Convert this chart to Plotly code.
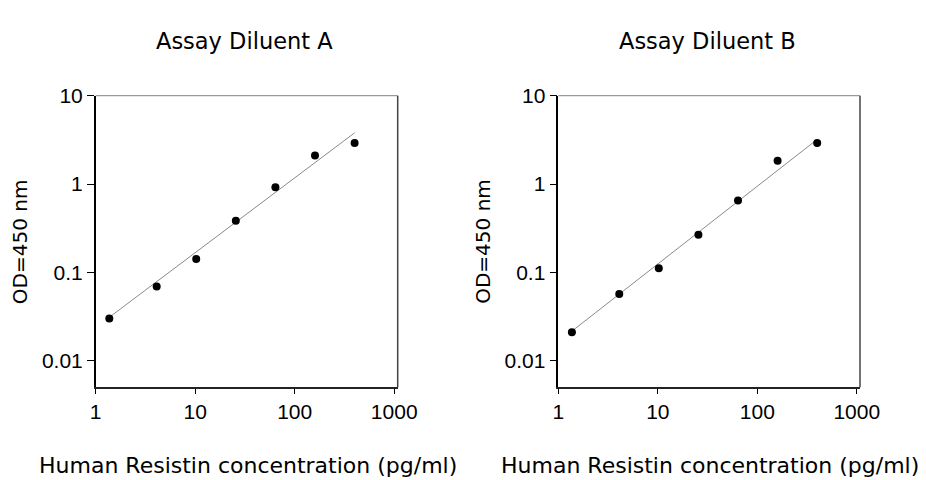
import numpy as np
import plotly.graph_objects as go

# concentration (pg/ml) of the standards
conc = [1.37, 4.1, 10.24, 25.6, 64, 160, 400]
od_a = [0.030, 0.069, 0.142, 0.385, 0.92, 2.11, 2.91]
od_b = [0.021, 0.057, 0.111, 0.267, 0.65, 1.84, 2.91]

# fitted line end points
fit_x = [1.37, 400]
fit_a = [0.031, 3.8]
fit_b = [0.0216, 3.2]

x_ticks = [1, 10, 100, 1000]
y_ticks = [0.01, 0.1, 1, 10]
panel_titles = ["Assay Diluent A", "Assay Diluent B"]

W, H = 926, 480
OFF = 8  # page body margin
panels = [(95.7, 397.7), (558.3, 860.0)]
top, bottom = 95.7, 387.3


def px(x):
  return (x - OFF) / W


def py(y):
  return 1 - (y - OFF) / H


fig = go.Figure()

for i, (od, fit) in enumerate([(od_a, fit_a), (od_b, fit_b)]):
  xa = "x" if i == 0 else "x2"
  ya = "y" if i == 0 else "y2"
  fig.add_trace(go.Scatter(x=fit_x, y=fit, mode="lines", xaxis=xa, yaxis=ya,
                           line=dict(color="#8a8a8a", width=1), showlegend=False))
  fig.add_trace(go.Scatter(x=conc, y=od, mode="markers", xaxis=xa, yaxis=ya,
                           marker=dict(color="black", size=8), showlegend=False))

tick_font = dict(family="Liberation Sans", size=21, color="black")
title_font = dict(family="DejaVu Sans", size=22, color="black")

layout = dict(template="none", width=W, height=H, margin=dict(l=0, r=0, t=0, b=0, pad=0),
              plot_bgcolor="white", paper_bgcolor="white", showlegend=False)

shapes = []
annotations = []
for i, (x0, x1) in enumerate(panels):
  sfx = "" if i == 0 else "2"
  layout["xaxis" + sfx] = dict(
    type="log", range=[0, (x1 - x0) / 99.5],
    domain=[px(x0), px(x1)], anchor="y" + sfx, automargin=False,
    tickvals=x_ticks, ticktext=[str(v) for v in x_ticks],
    ticks="outside", ticklen=5, tickcolor="black", tickwidth=1,
    showline=True, linecolor="#222", linewidth=1.5,
    showgrid=False, zeroline=False, tickfont=tick_font)
  layout["yaxis" + sfx] = dict(
    type="log", range=[np.log10(0.005), 1],
    domain=[py(bottom), py(top)], anchor="x" + sfx, automargin=False,
    tickvals=y_ticks, ticktext=[str(v) for v in y_ticks],
    ticks="outside", ticklen=7, tickcolor="black", tickwidth=1,
    showline=True, linecolor="black", linewidth=1.5,
    showgrid=False, zeroline=False, tickfont=tick_font)
  # top and right frame lines
  shapes.append(dict(type="line", xref="paper", yref="paper",
                     x0=px(x0), x1=px(x1), y0=py(top), y1=py(top),
                     line=dict(color="#9a9a9a", width=1.2)))
  shapes.append(dict(type="line", xref="paper", yref="paper",
                     x0=px(x1), x1=px(x1), y0=py(top), y1=py(bottom),
                     line=dict(color="#444", width=1.5)))
  cx = (x0 + x1) / 2
  annotations.append(dict(text=panel_titles[i], x=px(cx - 2), y=py(41),
                          xref="paper", yref="paper", showarrow=False,
                          xanchor="center", yanchor="middle", font=dict(title_font, size=22.5)))
  annotations.append(dict(text="Human Resistin concentration (pg/ml)", x=px(cx + 1),
                          y=py(465), xref="paper", yref="paper", showarrow=False,
                          xanchor="center", yanchor="middle", font=title_font))
  annotations.append(dict(text="OD=450 nm", x=px(x0 - 89), y=py(241.5),
                          xref="paper", yref="paper", showarrow=False, textangle=-90,
                          borderpad=0, xanchor="left", yanchor="middle",
                          font=dict(title_font, size=20)))

layout["shapes"] = shapes
layout["annotations"] = annotations
fig.update_layout(**layout)

fig.write_html("out.html")
